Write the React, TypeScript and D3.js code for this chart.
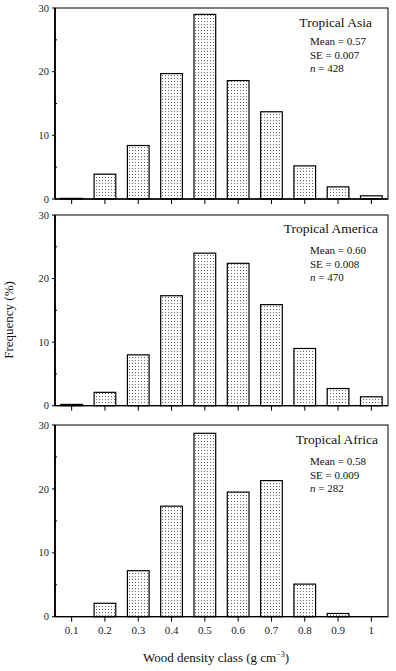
import React from "react";
import * as d3 from "d3";

const classes = [0.1, 0.2, 0.3, 0.4, 0.5, 0.6, 0.7, 0.8, 0.9, 1.0];
const classLabels = ["0.1", "0.2", "0.3", "0.4", "0.5", "0.6", "0.7", "0.8", "0.9", "1"];
const asiaValues = [0.1, 3.9, 8.4, 19.7, 29.0, 18.6, 13.7, 5.2, 1.9, 0.5];
const americaValues = [0.2, 2.1, 8.0, 17.3, 24.0, 22.4, 15.9, 9.0, 2.7, 1.4];
const africaValues = [0, 2.1, 7.2, 17.3, 28.7, 19.5, 21.3, 5.1, 0.5, 0];
const yTicks = [0, 10, 20, 30];
const yMinorTicks = [5, 15, 25];

const panels = [
  { title: "Tropical Asia", mean: "0.57", se: "0.007", n: "428", values: asiaValues, top: 8, bottom: 199, titleX: 372, titleY: 27, statY: 45 },
  { title: "Tropical America", mean: "0.60", se: "0.008", n: "470", values: americaValues, top: 215, bottom: 405.7, titleX: 378, titleY: 233, statY: 254 },
  { title: "Tropical Africa", mean: "0.58", se: "0.009", n: "282", values: africaValues, top: 425, bottom: 616.7, titleX: 378, titleY: 444, statY: 465 },
];

const FONT = "'Liberation Serif', 'Times New Roman', serif";

export default function App() {
  const W = 396, H = 671;
  const left = 55, right = 388;
  const x = d3.scaleLinear().domain([0.05, 1.05]).range([left, right]);
  const barW = 21.7;

  return (
    <svg width={W} height={H} style={{ position: "absolute", left: 0, top: 0, background: "#fff" }} fontFamily={FONT}>
      <defs>
        <pattern id="stipple" width="3" height="3" patternUnits="userSpaceOnUse">
          <rect width="3" height="3" fill="#fff" />
          <rect x="0" y="0" width="1" height="1" fill="#666" />
        </pattern>
      </defs>
      <rect width={W} height={H} fill="#fff" />
      {panels.map((p, pi) => {
        const y = d3.scaleLinear().domain([0, 30]).range([p.bottom, p.top]);
        return (
          <g key={pi}>
            {p.values.map((v, i) => {
              if (v <= 0) return null;
              const cx = x(classes[i]);
              return (
                <rect key={i} x={cx - barW / 2} y={y(v)} width={barW} height={y(0) - y(v)}
                  fill="url(#stipple)" stroke="#000" strokeWidth={1.2} />
              );
            })}
            <rect x={left} y={p.top} width={right - left} height={p.bottom - p.top} fill="none" stroke="#000" strokeWidth={1} />
            <line x1={left} x2={left} y1={p.top} y2={p.bottom} stroke="#000" strokeWidth={1.8} />
            <line x1={left} x2={right} y1={p.bottom} y2={p.bottom} stroke="#000" strokeWidth={1.3} />
            {yTicks.map((t) => (
              <g key={t}>
                <line x1={left - 3} x2={left} y1={y(t)} y2={y(t)} stroke="#000" />
                <text x={left - 6} y={y(t)} dy="0.35em" textAnchor="end" fontSize={10.5} fill="#222">{t}</text>
              </g>
            ))}
            {yMinorTicks.map((t) => (
              <line key={t} x1={left} x2={left + 2} y1={y(t)} y2={y(t)} stroke="#000" />
            ))}
            {classes.map((c, i) => (
              <line key={i} x1={x(c)} x2={x(c)} y1={p.bottom} y2={p.bottom + 5} stroke="#000" />
            ))}
            <text x={p.titleX} y={p.titleY} textAnchor="end" fontSize={13.5} fill="#111">{p.title}</text>
            <text x={310} y={p.statY} fontSize={11} fill="#111">Mean = {p.mean}</text>
            <text x={310} y={p.statY + 13.5} fontSize={11} fill="#111">SE = {p.se}</text>
            <text x={310} y={p.statY + 27} fontSize={11} fill="#111"><tspan fontStyle="italic">n</tspan> = {p.n}</text>
          </g>
        );
      })}
      {classes.map((c, i) => (
        <text key={i} x={x(c)} y={634} textAnchor="middle" fontSize={11} fill="#222">{classLabels[i]}</text>
      ))}
      <text x={216} y={662} textAnchor="middle" fontSize={13} fill="#111">
        Wood density class (g cm<tspan dy="-5" fontSize={8}>−3</tspan><tspan dy="5">)</tspan>
      </text>
      <text transform="translate(13,320) rotate(-90)" textAnchor="middle" fontSize={13} fill="#111">Frequency (%)</text>
    </svg>
  );
}
